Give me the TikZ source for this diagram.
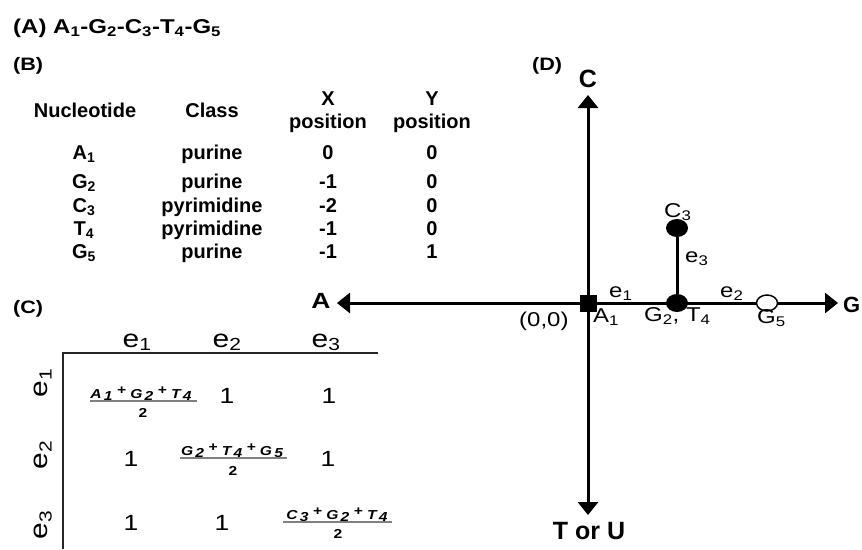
\documentclass[tikz,border=0pt]{standalone}
\usepackage{fontspec}
\setmainfont{Liberation Sans}
\newfontfamily\wf{Liberation Sans}[FakeStretch=1.2]
\usetikzlibrary{arrows.meta,shapes.geometric}
\newcommand\fsz[1]{\fontsize{#1}{#1}\selectfont}
\newcommand\nsb[1]{\,\raisebox{-2pt}{#1}}
\newcommand\npl{\ \raisebox{4pt}{+}\ }
\begin{document}
\begin{tikzpicture}[x=1pt,y=-1pt,
  plab/.style={inner sep=0pt, anchor=base west, font=\wf\bfseries\fsz{18}},
  tabtxt/.style={inner sep=0pt, anchor=base, font=\bfseries\fsz{20}},
  axlab/.style={inner sep=0pt, anchor=base, font=\bfseries\fsz{25}},
  dlab/.style={inner sep=0pt, anchor=base west, font=\wf\fsz{20}},
  mhead/.style={inner sep=0pt, anchor=base, font=\wf\fsz{25}},
  mone/.style={inner sep=0pt, anchor=base, font=\wf\fsz{22}},
  numer/.style={inner sep=0pt, anchor=base, font=\wf\bfseries\itshape\fsz{13}},
  denom/.style={inner sep=0pt, anchor=base, font=\wf\bfseries\fsz{13}},
  fracbar/.style={draw=black!50, line width=1.3pt},
  mline/.style={draw=black!85, line width=1.5pt},
  axisline/.style={line width=3pt, {Triangle[length=13pt,width=20pt]}-{Triangle[length=13pt,width=20pt]}},
  edgeline/.style={line width=3pt},
  fullnode/.style={shape=ellipse, fill=black, inner sep=0pt, minimum width=22pt, minimum height=18pt},
  opennode/.style={shape=ellipse, fill=white, draw=black, line width=1.5pt, inner sep=0pt, minimum width=21pt, minimum height=16pt},
  sqnode/.style={shape=rectangle, fill=black, inner sep=0pt, minimum size=17pt}
]
\useasboundingbox (0,0) rectangle (862,549);

% (A) and (B)
\node[plab, font=\wf\bfseries\fsz{20}] (labA) at (13,33) {(A) A\textsubscript{1}-G\textsubscript{2}-C\textsubscript{3}-T\textsubscript{4}-G\textsubscript{5}};
\node[plab] (labB) at (13,70) {(B)};

% table
\node[tabtxt] (hNuc) at (85,117) {Nucleotide};
\node[tabtxt] (hCls) at (212,117) {Class};
\node[tabtxt] (hX1) at (328,105) {X};
\node[tabtxt] (hX2) at (328,128) {position};
\node[tabtxt] (hY1) at (432,105) {Y};
\node[tabtxt] (hY2) at (432,128) {position};

\node[tabtxt] (r1a) at (84,159) {A\textsubscript{1}};
\node[tabtxt] (r1b) at (212,159) {purine};
\node[tabtxt] (r1c) at (328,159) {0};
\node[tabtxt] (r1d) at (432,159) {0};
\node[tabtxt] (r2a) at (84,188) {G\textsubscript{2}};
\node[tabtxt] (r2b) at (212,188) {purine};
\node[tabtxt] (r2c) at (328,188) {-1};
\node[tabtxt] (r2d) at (432,188) {0};
\node[tabtxt] (r3a) at (84,212) {C\textsubscript{3}};
\node[tabtxt] (r3b) at (212,212) {pyrimidine};
\node[tabtxt] (r3c) at (328,212) {-2};
\node[tabtxt] (r3d) at (432,212) {0};
\node[tabtxt] (r4a) at (84,235) {T\textsubscript{4}};
\node[tabtxt] (r4b) at (212,235) {pyrimidine};
\node[tabtxt] (r4c) at (328,235) {-1};
\node[tabtxt] (r4d) at (432,235) {0};
\node[tabtxt] (r5a) at (84,258) {G\textsubscript{5}};
\node[tabtxt] (r5b) at (212,258) {purine};
\node[tabtxt] (r5c) at (328,258) {-1};
\node[tabtxt] (r5d) at (432,258) {1};

% (C) matrix
\node[plab] (labC) at (13,313) {(C)};
\node[mhead] (c1) at (137,347) {e\textsubscript{1}};
\node[mhead] (c2) at (227,347) {e\textsubscript{2}};
\node[mhead] (c3) at (326,347) {e\textsubscript{3}};
\node[mhead, anchor=center, rotate=90] (rw1) at (43,383) {e\textsubscript{1}};
\node[mhead, anchor=center, rotate=90] (rw2) at (43,455) {e\textsubscript{2}};
\node[mhead, anchor=center, rotate=90] (rw3) at (43,525) {e\textsubscript{3}};
\draw[mline] (63,549) -- (63,353) -- (378,353);

\node[numer] (n11) at (141,398) {A\nsb{1}\npl G\nsb{2}\npl T\nsb{4}};
\draw[fracbar] (90,401) -- (197,401);
\node[denom] (d11) at (143,417) {2};
\node[mone] (m12) at (227,403) {1};
\node[mone] (m13) at (329,403) {1};

\node[mone] (m21) at (131,466) {1};
\node[numer] (n22) at (232,455) {G\nsb{2}\npl T\nsb{4}\npl G\nsb{5}};
\draw[fracbar] (180,458) -- (287,458);
\node[denom] (d22) at (233,475) {2};
\node[mone] (m23) at (328,466) {1};

\node[mone] (m31) at (131,530) {1};
\node[mone] (m32) at (222,530) {1};
\node[numer] (n33) at (337,519) {C\nsb{3}\npl G\nsb{2}\npl T\nsb{4}};
\draw[fracbar] (283,522) -- (392,522);
\node[denom] (d33) at (338,538) {2};

% (D) plot
\node[plab] (labD) at (532,70) {(D)};
\coordinate (axL) at (337,303);
\coordinate (axR) at (838,303);
\coordinate (axT) at (588,95);
\coordinate (axB) at (588,515);
\draw[axisline] (axL) -- (axR);
\draw[axisline] (axB) -- (axT);
\node[axlab] (lC) at (588,87) {C};
\node[axlab] (lT) at (589,539) {T or U};
\node[axlab, font=\wf\bfseries\fsz{22}] (lA) at (321,308) {A};
\node[axlab, anchor=base west, font=\bfseries\fsz{22}] (lG) at (843,312) {G};

\node[sqnode] (A1) at (588,303) {};
\node[fullnode] (G2T4) at (677,303) {};
\node[fullnode] (C3) at (677,228) {};
\node[opennode] (G5) at (767,303) {};
\draw[edgeline] (A1) -- (G2T4);
\draw[edgeline] (G2T4) -- (G5);
\draw[edgeline] (C3) -- (G2T4);

\node[dlab] (tC3) at (664,217) {C\textsubscript{3}};
\node[dlab] (te3) at (685,262) {e\textsubscript{3}};
\node[dlab] (te1) at (609,297) {e\textsubscript{1}};
\node[dlab] (te2) at (720,297) {e\textsubscript{2}};
\node[dlab] (t00) at (519,326) {(0,0)};
\node[dlab] (tA1) at (593,322) {A\textsubscript{1}};
\node[dlab] (tG2T4) at (644,321) {G\textsubscript{2}, T\textsubscript{4}};
\node[dlab] (tG5) at (757,323) {G\textsubscript{5}};
\end{tikzpicture}
\end{document}
